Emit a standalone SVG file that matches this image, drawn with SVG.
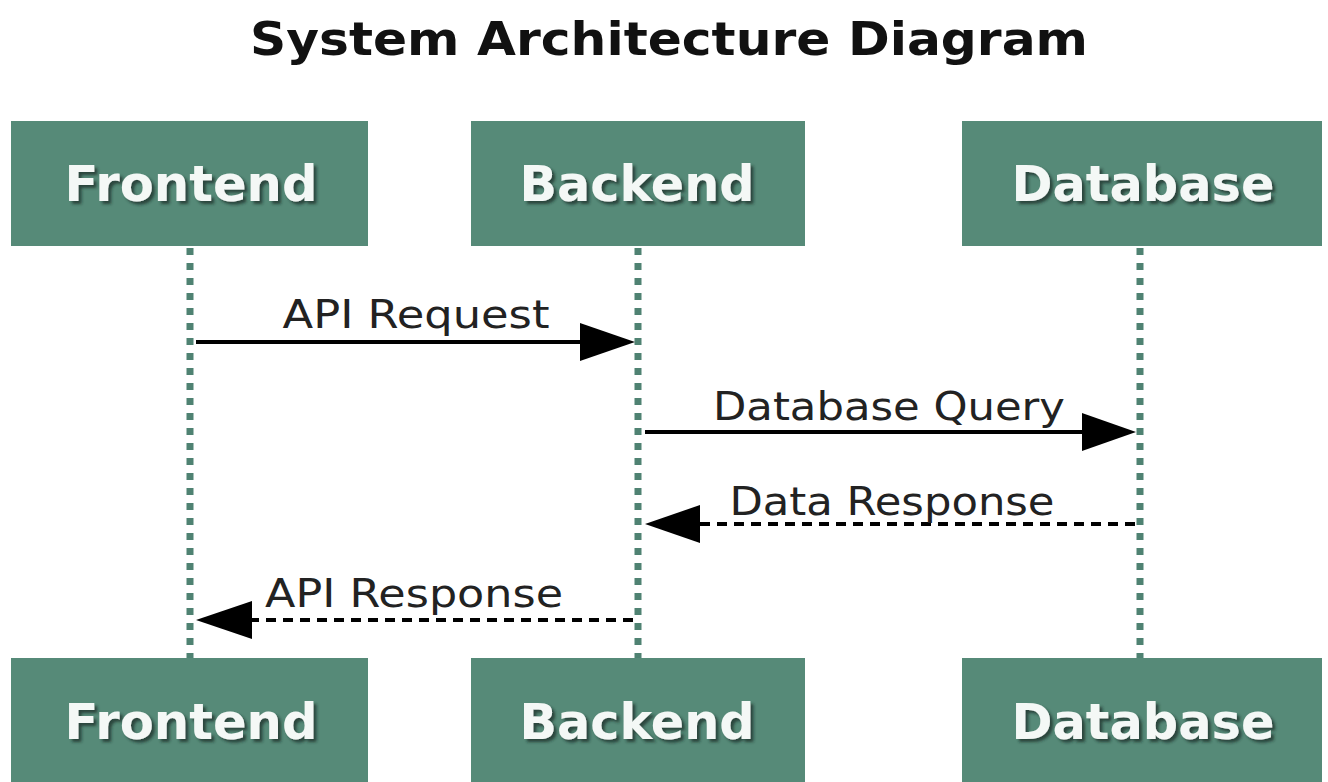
<svg xmlns="http://www.w3.org/2000/svg" width="1328" height="782" viewBox="0 0 1328 782">
<defs>
<style>
.box{fill:#568a78;}
.lbl{font-family:"DejaVu Sans",Verdana,sans-serif;font-size:49px;font-weight:bold;fill:#f4f8f6;text-anchor:middle;filter:url(#sh);}
.life{stroke:#4f8272;stroke-width:7;stroke-dasharray:7 8;fill:none;}
.msg{stroke:#000;stroke-width:4;fill:none;}
.dash{stroke-dasharray:10 7;}
.mt{font-family:"DejaVu Sans",Verdana,sans-serif;font-size:39px;fill:#222;text-anchor:middle;}
.title{font-family:"DejaVu Sans",Verdana,sans-serif;font-size:47px;fill:#111;text-anchor:middle;font-weight:bold;}
</style>
<filter id="sh" x="-10%" y="-20%" width="120%" height="140%">
<feDropShadow dx="3" dy="3" stdDeviation="1.5" flood-color="#1d2e27" flood-opacity="0.75"/>
</filter>
</defs>
<rect width="1328" height="782" fill="#fff"/>
<text class="title" x="669" y="55" textLength="838" lengthAdjust="spacingAndGlyphs">System Architecture Diagram</text>
<g id="lifelines">
<line class="life" x1="190" y1="248" x2="190" y2="658"/>
<line class="life" x1="638" y1="248" x2="638" y2="658"/>
<line class="life" x1="1140" y1="248" x2="1140" y2="658"/>
</g>
<g id="frontend-top"><rect class="box" x="11" y="121" width="357" height="125"/><text class="lbl" x="191" y="201" textLength="253" lengthAdjust="spacingAndGlyphs">Frontend</text></g>
<g id="backend-top"><rect class="box" x="471" y="121" width="334" height="125"/><text class="lbl" x="637" y="201" textLength="235" lengthAdjust="spacingAndGlyphs">Backend</text></g>
<g id="database-top"><rect class="box" x="962" y="121" width="360" height="125"/><text class="lbl" x="1143" y="201" textLength="263" lengthAdjust="spacingAndGlyphs">Database</text></g>
<g id="frontend-bottom"><rect class="box" x="11" y="658" width="357" height="124"/><text class="lbl" x="191" y="739" textLength="253" lengthAdjust="spacingAndGlyphs">Frontend</text></g>
<g id="backend-bottom"><rect class="box" x="471" y="658" width="334" height="124"/><text class="lbl" x="637" y="739" textLength="235" lengthAdjust="spacingAndGlyphs">Backend</text></g>
<g id="database-bottom"><rect class="box" x="962" y="658" width="360" height="124"/><text class="lbl" x="1143" y="739" textLength="263" lengthAdjust="spacingAndGlyphs">Database</text></g>
<g id="connectors">
<line x1="196" y1="342" x2="586" y2="342" class="msg"/>
<path d="M580,323 L635,342 L580,361 Z" fill="#000"/>
<line x1="645" y1="432" x2="1088" y2="432" class="msg"/>
<path d="M1082,413 L1136,432 L1082,451 Z" fill="#000"/>
<line x1="1135" y1="524" x2="695" y2="524" class="msg dash"/>
<path d="M700,505 L645,524 L700,543 Z" fill="#000"/>
<line x1="633" y1="620" x2="247" y2="620" class="msg dash"/>
<path d="M252,601 L196,620 L252,639 Z" fill="#000"/>
</g>
<g id="labels">
<text class="mt" x="416" y="328" textLength="267" lengthAdjust="spacingAndGlyphs">API Request</text>
<text class="mt" x="889" y="420" textLength="352" lengthAdjust="spacingAndGlyphs">Database Query</text>
<text class="mt" x="892" y="515" textLength="325" lengthAdjust="spacingAndGlyphs">Data Response</text>
<text class="mt" x="414" y="607" textLength="298" lengthAdjust="spacingAndGlyphs">API Response</text>
</g>
</svg>
